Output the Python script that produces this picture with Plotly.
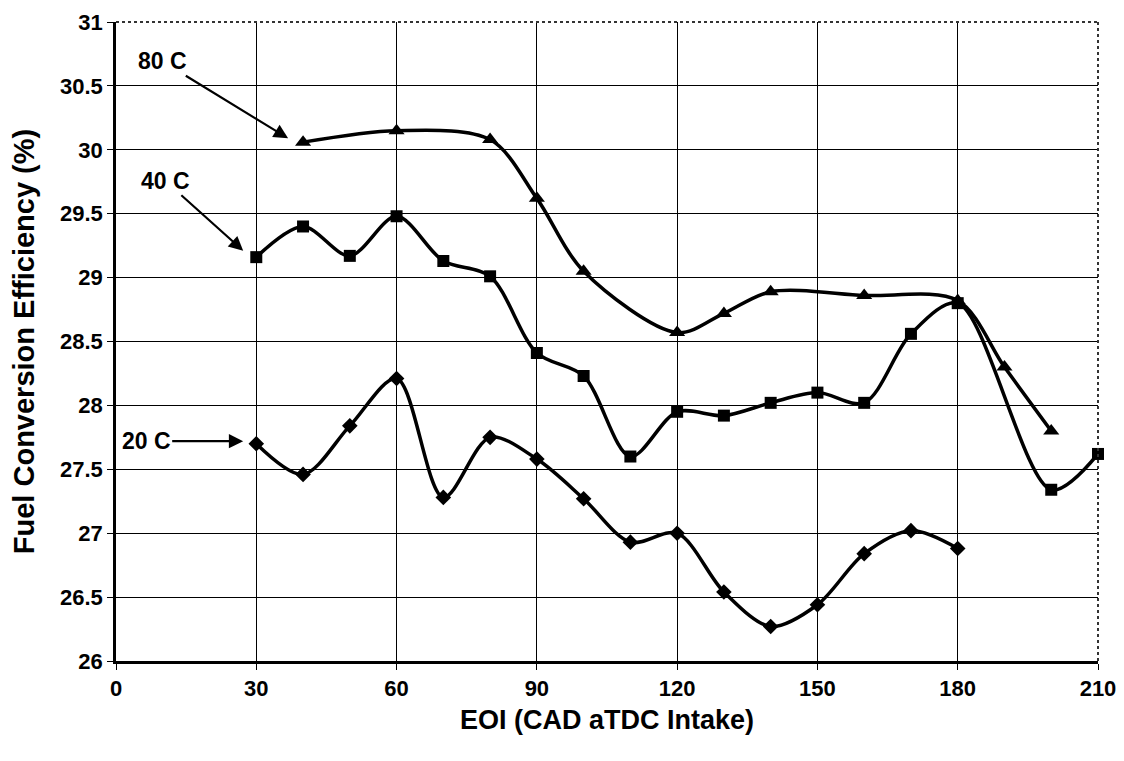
import plotly.graph_objects as go

x80 = [40, 60, 80, 90, 100, 120, 130, 140, 160, 180, 190, 200]
y80 = [30.06, 30.15, 30.08, 29.62, 29.05, 28.57, 28.72, 28.89, 28.86, 28.82, 28.30, 27.80]

x40 = [30, 40, 50, 60, 70, 80, 90, 100, 110, 120, 130, 140, 150, 160, 170, 180, 200, 210]
y40 = [29.16, 29.40, 29.17, 29.48, 29.13, 29.01, 28.41, 28.23, 27.60, 27.95, 27.92, 28.02,
       28.10, 28.02, 28.56, 28.80, 27.34, 27.62]

x20 = [30, 40, 50, 60, 70, 80, 90, 100, 110, 120, 130, 140, 150, 160, 170, 180]
y20 = [27.70, 27.46, 27.84, 28.21, 27.28, 27.75, 27.58, 27.27, 26.93, 27.00, 26.54, 26.27,
       26.44, 26.84, 27.02, 26.88]

x_ticks = [0, 30, 60, 90, 120, 150, 180, 210]
y_ticks = [26, 26.5, 27, 27.5, 28, 28.5, 29, 29.5, 30, 30.5, 31]

labels = ["80 C", "40 C", "20 C"]

fig = go.Figure()
for xs, ys, sym, size in [(x80, y80, "triangle-up", 14), (x40, y40, "square", 12), (x20, y20, "diamond", 12)]:
    fig.add_trace(go.Scatter(
        x=xs, y=ys, mode="lines+markers",
        line=dict(color="black", width=3.5, shape="spline", smoothing=0.9),
        marker=dict(symbol=sym, size=size, color="black"),
        showlegend=False, cliponaxis=False,
    ))

font_b = dict(family="Arial", size=23, color="black", weight="bold")

ann = [
    (labels[0], 36.8, 30.09, -126, -77),
    (labels[1], 27.2, 29.21, -78, -70),
    (labels[2], 27.2, 27.72, -97, 0),
]
for t, ax_, ay_, dx, dy in ann:
    fig.add_annotation(x=ax_, y=ay_, text=t, showarrow=True, ax=dx, ay=dy,
                       arrowhead=2, arrowsize=1.3, arrowwidth=2.2, arrowcolor="black",
                       font=font_b)

# dotted top and right frame
fig.add_shape(type="line", xref="paper", yref="paper", x0=0, x1=1, y0=1, y1=1,
              line=dict(color="#333333", width=2, dash="dot"))
fig.add_shape(type="line", xref="paper", yref="paper", x0=1, x1=1, y0=0, y1=1,
              line=dict(color="#333333", width=2, dash="dot"))

fig.update_layout(
    width=1116, height=749,
    margin=dict(l=108, r=26, t=14, b=96),
    paper_bgcolor="white", plot_bgcolor="white",
    font=dict(family="Arial", color="black"),
)
fig.update_xaxes(
    range=[0, 210], tickvals=x_ticks, ticktext=[str(v) for v in x_ticks],
    showgrid=True, gridcolor="black", gridwidth=1,
    showline=True, linecolor="black", linewidth=2.5, mirror=False,
    ticks="outside", ticklen=6, tickcolor="black",
    tickfont=dict(family="Arial", size=22, color="black", weight="bold"),
    ticklabeloverflow="allow",
    title=dict(text="EOI (CAD aTDC Intake)", font=dict(family="Arial", size=27, color="black", weight="bold"), standoff=10),
    zeroline=False, automargin=False,
)
fig.update_yaxes(
    range=[26, 31], tickvals=y_ticks, ticktext=[f"{v:g}" for v in y_ticks],
    showgrid=True, gridcolor="black", gridwidth=1,
    showline=True, linecolor="black", linewidth=2.5, mirror=False,
    ticks="outside", ticklen=6, tickcolor="black",
    tickfont=dict(family="Arial", size=22, color="black", weight="bold"),
    ticklabeloverflow="allow",
    title=dict(text="Fuel Conversion Efficiency (%)", font=dict(family="Arial", size=29, color="black", weight="bold"), standoff=20),
    zeroline=False, automargin=False,
)

fig.write_html("out.html")
